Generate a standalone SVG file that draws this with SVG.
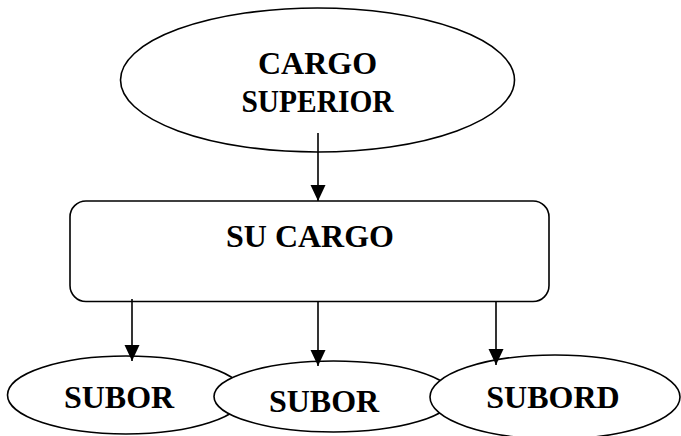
<svg xmlns="http://www.w3.org/2000/svg" width="681" height="436" viewBox="0 0 681 436">
  <defs>
    <style>
      .shape { fill: #ffffff; stroke: #000000; stroke-width: 1.6; }
      .label { font-family: "Liberation Serif", "Times New Roman", serif; font-weight: bold; font-size: 32px; fill: #000000; text-anchor: middle; }
      .link { stroke: #000000; stroke-width: 1.6; fill: none; marker-end: url(#arrow); }
    </style>
    <marker id="arrow" markerUnits="userSpaceOnUse" markerWidth="16" markerHeight="16" viewBox="0 0 16 15" refX="16" refY="7.5" orient="auto">
      <path d="M0,0 L16,7.5 L0,15 z" fill="#000000"/>
    </marker>
  </defs>
  <rect width="681" height="436" fill="#ffffff"/>

  <g id="cargo-superior">
    <ellipse class="shape" cx="317.5" cy="80" rx="197" ry="72"/>
    <text class="label" x="317.5" y="74">CARGO</text>
    <text class="label" x="317.5" y="112" textLength="152" lengthAdjust="spacingAndGlyphs">SUPERIOR</text>
  </g>

  <g id="su-cargo">
    <rect class="shape" x="70" y="201" width="479" height="100.5" rx="16" ry="16"/>
    <text class="label" x="310" y="247">SU CARGO</text>
  </g>

  <g id="subor-1">
    <ellipse class="shape" cx="126" cy="395" rx="118.5" ry="39"/>
    <text class="label" x="119" y="408">SUBOR</text>
  </g>

  <g id="subor-2">
    <ellipse class="shape" cx="333.5" cy="396.5" rx="119.5" ry="35.5"/>
    <text class="label" x="324" y="411.5">SUBOR</text>
  </g>

  <g id="subord-3">
    <ellipse class="shape" cx="555" cy="397" rx="125" ry="42"/>
    <text class="label" x="553" y="408">SUBORD</text>
  </g>

  <g id="connectors">
    <line class="link" x1="318" y1="133" x2="318" y2="201"/>
    <line class="link" x1="132" y1="299" x2="132" y2="361"/>
    <line class="link" x1="318" y1="301.5" x2="318" y2="366"/>
    <line class="link" x1="496" y1="301.5" x2="496" y2="365"/>
  </g>
</svg>
